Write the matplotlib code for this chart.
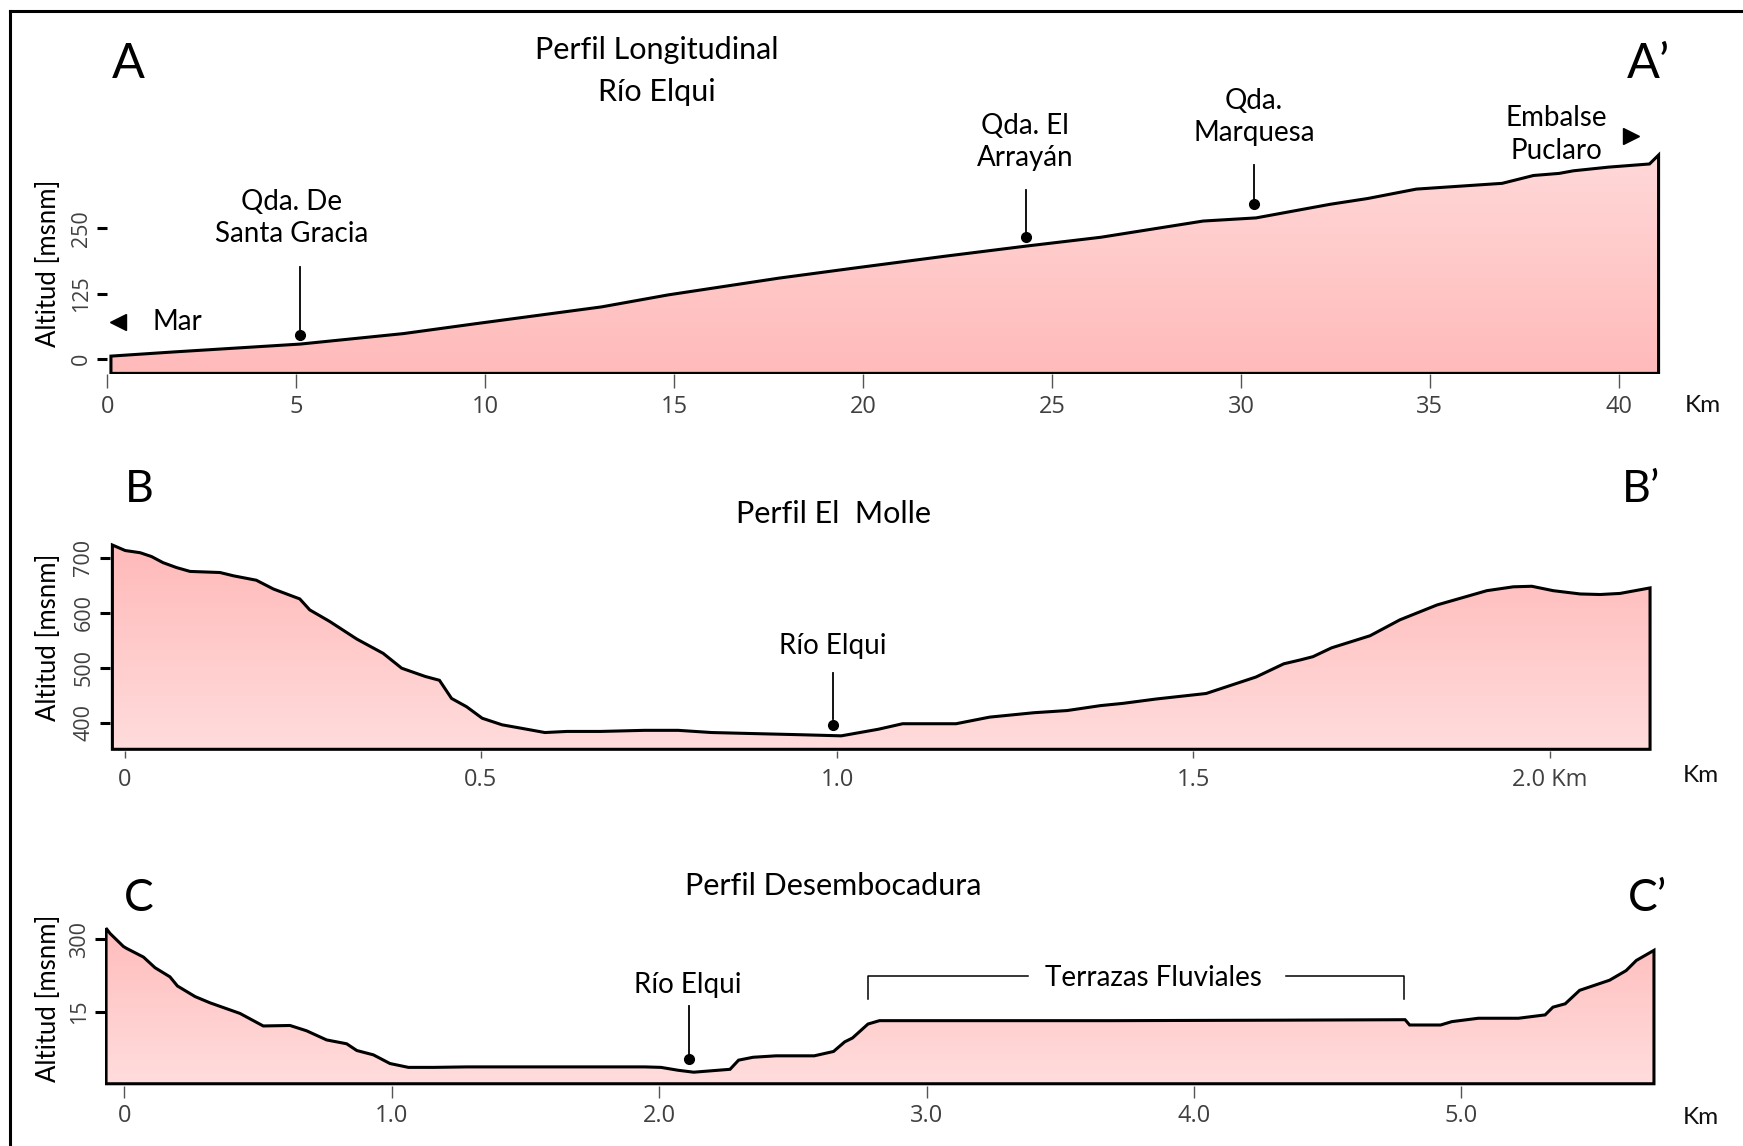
import numpy as np
import matplotlib.pyplot as plt
from matplotlib.colors import LinearSegmentedColormap
from matplotlib.lines import Line2D

# ---- Perfil Longitudinal Río Elqui (A - A') ----
a_km = [0.10, 1.77, 5.11, 7.84, 9.76, 13.08, 14.85, 17.78, 19.75, 22.19, 24.30,
        26.29, 29.00, 30.40, 32.36, 33.35, 34.64, 36.91, 37.74, 38.42, 38.80,
        39.73, 40.81, 41.05]
a_alt = [6, 14, 29, 49, 68, 100, 123, 155, 174, 197, 216, 233, 264, 270, 296,
         307, 325, 336, 351, 355, 360, 367, 373, 390]
a_xticks = [0, 5, 10, 15, 20, 25, 30, 35, 40]
a_yticks = [0, 125, 250]

# ---- Perfil El Molle (B - B') ----
b_km = [-0.017, 0.001, 0.022, 0.038, 0.054, 0.073, 0.092, 0.134, 0.153, 0.185,
        0.209, 0.246, 0.260, 0.288, 0.326, 0.363, 0.389, 0.422, 0.442, 0.459,
        0.480, 0.502, 0.530, 0.556, 0.590, 0.621, 0.668, 0.730, 0.777, 0.824,
        0.886, 0.949, 1.006, 1.058, 1.092, 1.167, 1.214, 1.276, 1.323, 1.370,
        1.401, 1.448, 1.518, 1.588, 1.627, 1.650, 1.668, 1.694, 1.748, 1.790,
        1.842, 1.912, 1.949, 1.975, 2.005, 2.043, 2.071, 2.099, 2.141]
b_alt = [723, 713, 709, 702, 691, 682, 675, 673, 667, 659, 643, 625, 605, 584,
         552, 526, 499, 484, 477, 444, 429, 408, 396, 390, 382, 384, 384, 386,
         386, 382, 380, 378, 376, 388, 398, 398, 410, 418, 422, 431, 435, 443,
         453, 483, 507, 514, 520, 536, 558, 587, 614, 640, 647, 648, 640, 634,
         633, 635, 645]
b_xticks = [0, 0.5, 1.0, 1.5, 2.0]
b_xlabels = ["0", "0.5", "1.0", "1.5", "2.0 Km"]
b_yticks = [400, 500, 600, 700]

# ---- Perfil Desembocadura (C - C') ----
c_km = [-0.069, -0.054, -0.004, 0.008, 0.071, 0.114, 0.170, 0.198, 0.264, 0.320,
        0.432, 0.519, 0.619, 0.681, 0.756, 0.831, 0.869, 0.931, 0.993, 1.062,
        1.156, 1.281, 1.946, 2.007, 2.071, 2.129, 2.265, 2.297, 2.351, 2.437,
        2.580, 2.652, 2.694, 2.723, 2.781, 2.824, 3.692, 4.316, 4.790, 4.807,
        4.923, 4.965, 5.064, 5.214, 5.314, 5.343, 5.389, 5.443, 5.555, 5.617,
        5.655, 5.721]
c_alt = [323, 312, 285, 281, 263, 241, 222, 203, 181, 168, 146, 120, 121, 110,
         91, 83, 69, 60, 42, 34, 34, 35, 35, 34, 28, 24, 30, 49, 55, 58, 58, 67,
         87, 95, 124, 131, 131, 132, 133, 122, 122, 129, 136, 136, 143, 159, 166,
         194, 215, 235, 256, 277]
c_xticks = [0, 1, 2, 3, 4, 5]
c_xlabels = ["0", "1.0", "2.0", "3.0", "4.0", "5.0"]
c_yticks = [150, 300]
c_ylabels = ["15", "300"]

# points of interest: (km, altitude of dot, top of leader line)
a_marks = [(5.11, 46, 176), (24.30, 233, 324), (30.35, 297, 371)]
b_marks = [(0.994, 396, 491)]
c_marks = [(2.112, 51, 162)]

# layout is measured on a 1568 x 1031 view of the figure
W, H = 1568.0, 1031.0
FONT = "Lato"
TICKFONT = "Open Sans"

fig = plt.figure(figsize=(17.43, 11.46), dpi=100)


def ftext(x, y, s, **kw):
    kw.setdefault("family", FONT)
    kw.setdefault("ha", "center")
    kw.setdefault("va", "center")
    return fig.text(x / W, 1 - y / H, s, **kw)


def panel(xlim, ylim, x0, xs, y0, ys):
    left = x0 + xs * xlim[0]
    right = x0 + xs * xlim[1]
    bottom = y0 - ys * ylim[0]
    top = y0 - ys * ylim[1]
    ax = fig.add_axes([left / W, 1 - bottom / H, (right - left) / W, (bottom - top) / H])
    for s in ax.spines.values():
        s.set_visible(False)
    ax.patch.set_alpha(0)
    return ax


def profile(ax, km, alt, base, top_col, bot_col, xlim, ylim):
    poly = ax.fill_between(km, alt, base, facecolor="none", edgecolor="black",
                           lw=2.2, zorder=3, joinstyle="miter")
    cmap = LinearSegmentedColormap.from_list("pink", [bot_col, top_col])
    grad = np.linspace(0, 1, 256).reshape(-1, 1)
    im = ax.imshow(grad, cmap=cmap, origin="lower", aspect="auto",
                   extent=[min(km), max(km), base, max(alt)], zorder=2)
    im.set_clip_path(poly.get_paths()[0], transform=ax.transData)
    ax.set_xlim(xlim)
    ax.set_ylim(ylim)


def style_ticks(ax, xlen, xpad, ypad):
    ax.tick_params(axis="x", length=xlen, width=1.0, color="#555555",
                   labelcolor="#404040", labelsize=17, pad=xpad)
    ax.tick_params(axis="y", length=7, width=2.2, color="black",
                   labelcolor="#404040", labelsize=15.5, pad=ypad)
    for lab in ax.get_xticklabels() + ax.get_yticklabels():
        lab.set_fontfamily(TICKFONT)


def marks(ax, items):
    for x, ydot, ytop in items:
        step = 10 if ytop > ydot else -10
        ax.plot([x, x], [ydot + step, ytop], color="black", lw=1.3, zorder=5,
                clip_on=False)
        ax.plot([x], [ydot], "o", color="black", ms=7, zorder=6, clip_on=False)


# ---------------- panel A ----------------
a_xlim, a_ylim = (0.05, 41.3), (-29, 400)
axA = panel(a_xlim, a_ylim, 94.7, 34.04, 323.2, 0.471)
profile(axA, a_km, a_alt, -27, "#ffd8d8", "#ffbaba", a_xlim, a_ylim)
axA.set_xticks(a_xticks, [str(t) for t in a_xticks])
axA.set_yticks(a_yticks, [str(t) for t in a_yticks], rotation=90, va="center")
style_ticks(axA, 10, 5, 4)
marks(axA, a_marks)
axA.plot([0.30], [70.5], marker="<", color="black", ms=12, clip_on=False)
axA.plot([40.31], [427], marker=">", color="black", ms=12, clip_on=False)

ftext(115, 58, "A", fontsize=35)
ftext(1483, 58, "A\u2019", fontsize=35)
ftext(591, 45, "Perfil Longitudinal", fontsize=22)
ftext(591, 83, "Río Elqui", fontsize=22)
ftext(262, 196, "Qda. De\nSanta Gracia", fontsize=20, linespacing=1.3)
ftext(922, 128, "Qda. El\nArrayán", fontsize=20, linespacing=1.3)
ftext(1128, 105, "Qda.\nMarquesa", fontsize=20, linespacing=1.3)
ftext(1400, 121, "Embalse\nPuclaro", fontsize=20, linespacing=1.3)
ftext(160, 290, "Mar", fontsize=20)
ftext(44, 237, "Altitud [msnm]", fontsize=18.5, rotation=90)
ftext(1532, 365, "Km", fontsize=17.5, color="#111111")

# ---------------- panel B ----------------
b_xlim, b_ylim = (-0.021, 2.16), (348, 740)
axB = panel(b_xlim, b_ylim, 112, 641, 848.0, 0.4947)
profile(axB, b_km, b_alt, 351.5, "#ffb9b9", "#ffdcdc", b_xlim, b_ylim)
axB.set_xticks(b_xticks, b_xlabels)
axB.set_yticks(b_yticks, [str(t) for t in b_yticks], rotation=90, va="center")
style_ticks(axB, 5, 7, 4)
marks(axB, b_marks)

ftext(125, 440, "B", fontsize=32)
ftext(1476, 440, "B\u2019", fontsize=32)
ftext(750, 462, "Perfil El  Molle", fontsize=22)
ftext(749, 581, "Río Elqui", fontsize=20)
ftext(44, 573, "Altitud [msnm]", fontsize=18.5, rotation=90)
ftext(1530, 698, "Km", fontsize=17.5, color="#111111")

# ---------------- panel C ----------------
c_xlim, c_ylim = (-0.073, 5.75), (-4, 330)
axC = panel(c_xlim, c_ylim, 112, 240.5, 975, 0.4333)
profile(axC, c_km, c_alt, 0, "#ffbcbc", "#ffdddd", c_xlim, c_ylim)
axC.set_xticks(c_xticks, c_xlabels)
axC.set_yticks(c_yticks, c_ylabels, rotation=90, va="center")
style_ticks(axC, 8.5, 5, 4)
marks(axC, c_marks)

# bracket for the fluvial terraces
br_x = [2.782, 3.380, 4.345, 4.786]
br_lo, br_hi = 177, 223
axC.plot([br_x[0], br_x[0], br_x[1]], [br_lo, br_hi, br_hi], color="black", lw=1.1)
axC.plot([br_x[2], br_x[3], br_x[3]], [br_hi, br_hi, br_lo], color="black", lw=1.1)

ftext(125, 808, "C", fontsize=32)
ftext(1482, 808, "C\u2019", fontsize=32)
ftext(750, 797, "Perfil Desembocadura", fontsize=22)
ftext(619, 886, "Río Elqui", fontsize=20)
ftext(1038, 880, "Terrazas Fluviales", fontsize=20)
ftext(44, 898, "Altitud [msnm]", fontsize=18.5, rotation=90)
ftext(1530, 1005, "Km", fontsize=17.5, color="#111111")

# partial frame around the figure (left and top edges)
fig.add_artist(Line2D([9 / W, 9 / W], [0, 1 - 10 / H], color="black", lw=2.2,
                      transform=fig.transFigure))
fig.add_artist(Line2D([9 / W, 1], [1 - 10 / H, 1 - 10 / H], color="black", lw=2.2,
                      transform=fig.transFigure))

fig.savefig("out.png", dpi=100)
